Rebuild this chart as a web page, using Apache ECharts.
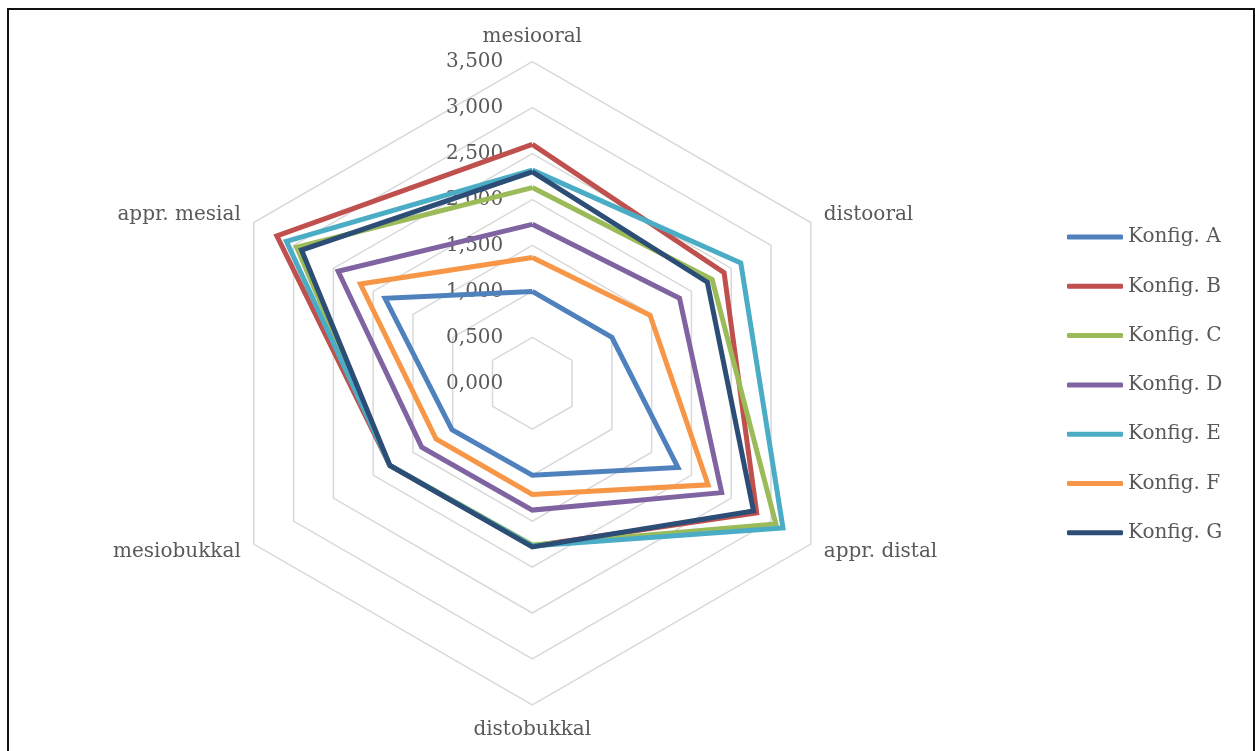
<!DOCTYPE html>
<html>
<head>
<meta charset="utf-8">
<script src="https://cdn.jsdelivr.net/npm/echarts@6/dist/echarts.min.js"></script>
<style>
html,body{margin:0;padding:0;background:#fff;}
#chart{width:1255px;height:751px;}
</style>
</head>
<body>
<div id="chart"></div>
<script>
// Categories in the reference's clockwise order (starting at top)
const categories = ['mesiooral', 'distooral', 'appr. distal', 'distobukkal', 'mesiobukkal', 'appr. mesial'];
const seriesNames = ['Konfig. A', 'Konfig. B', 'Konfig. C', 'Konfig. D', 'Konfig. E', 'Konfig. F', 'Konfig. G'];
const konfigA = [1.00, 1.00, 1.83, 1.00, 1.01, 1.85];
const konfigB = [2.60, 2.41, 2.82, 1.77, 1.79, 3.21];
const konfigC = [2.13, 2.26, 3.06, 1.76, 1.79, 2.96];
const konfigD = [1.73, 1.85, 2.38, 1.38, 1.39, 2.44];
const konfigE = [2.32, 2.62, 3.15, 1.77, 1.79, 3.09];
const konfigF = [1.37, 1.48, 2.21, 1.21, 1.21, 2.16];
const konfigG = [2.30, 2.20, 2.78, 1.78, 1.79, 2.90];
const tickLabels = ['0,000', '0,500', '1,000', '1,500', '2,000', '2,500', '3,000', '3,500'];
const axisMin = 0, axisMax = 3.5, axisStep = 0.5;

const colors = ['#4F81BD', '#C0504D', '#9BBB59', '#8064A2', '#4BACC6', '#F79646', '#2C4D75'];
const allValues = [konfigA, konfigB, konfigC, konfigD, konfigE, konfigF, konfigG];

// ECharts places radar indicators counter-clockwise; reorder to get clockwise layout
const order = [0, 5, 4, 3, 2, 1];
const font = 'DejaVu Serif';
const txt = '#595959';
const cx = 532.3, cy = 383.3, R = 321.6;

const chart = echarts.init(document.getElementById('chart'), null, {renderer: 'canvas'});
chart.setOption({
  animation: false,
  backgroundColor: '#fff',
  graphic: [{
    type: 'rect', silent: true, z: 100,
    shape: {x: 8, y: 9, width: 1246, height: 760},
    style: {fill: 'none', stroke: '#111', lineWidth: 2}
  }],
  legend: {
    orient: 'vertical',
    left: 1062, top: 222,
    itemWidth: 56, itemHeight: 5, itemGap: 29.3,
    icon: 'roundRect',
    data: seriesNames,
    textStyle: {fontFamily: font, fontSize: 20, color: txt, lineHeight: 20}
  },
  grid: {left: cx, top: cy - R, height: R, width: 1, containLabel: false},
  xAxis: {type: 'value', show: false},
  yAxis: {
    type: 'value', min: axisMin, max: axisMax, interval: axisStep,
    axisLine: {show: false}, axisTick: {show: false}, splitLine: {show: false},
    axisLabel: {
      margin: 29, fontFamily: font, fontSize: 20, color: txt,
      formatter: function (v) { return tickLabels[Math.round((v - axisMin) / axisStep)]; }
    }
  },
  radar: {
    center: [cx, cy], radius: R,
    startAngle: 90, splitNumber: 7, shape: 'polygon',
    indicator: order.map(i => ({name: categories[i], min: axisMin, max: axisMax})),
    axisName: {fontFamily: font, fontSize: 20, color: txt},
    nameGap: 15,
    axisLine: {show: false},
    axisTick: {show: false},
    axisLabel: {show: false},
    splitArea: {show: false},
    splitLine: {lineStyle: {color: '#D9D9D9', width: 1.5}}
  },
  series: [{
    type: 'radar',
    symbol: 'none',
    data: allValues.map((vals, k) => ({
      name: seriesNames[k],
      value: order.map(i => vals[i]),
      lineStyle: {color: colors[k], width: 5, join: 'miter'},
      itemStyle: {color: colors[k]}
    }))
  }]
});
</script>
</body>
</html>
